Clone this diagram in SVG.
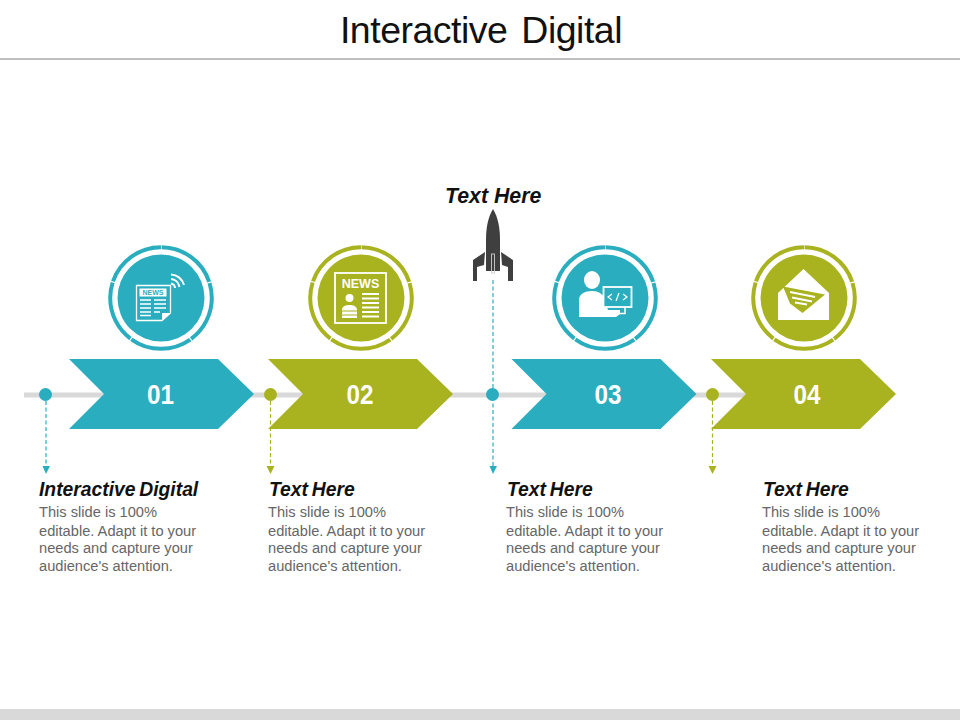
<svg xmlns="http://www.w3.org/2000/svg" width="960" height="720" viewBox="0 0 960 720">
<style>
text{font-family:"Liberation Sans",Arial,sans-serif}
.t{fill:#2aaebf}.o{fill:#a9b21f}.w{fill:#fff}
.num{font-size:28px;font-weight:700;fill:#fff;text-anchor:middle}
.h{font-size:19.3px;font-weight:700;font-style:italic;fill:#111;word-spacing:-1.5px}
.b{font-size:14.65px;fill:#666}
.ring{fill:none;stroke-width:4;stroke-dasharray:62.7 1.14;stroke-dashoffset:-.57}
.dash{stroke-width:1.2;stroke-dasharray:4 2.5;fill:none}
.ln{stroke:#fff;stroke-width:1.3;fill:none}
</style>
<defs>
<path id="arrow" d="M0 0H149L185 35 149 70H0L35 35Z"/>
</defs>
<rect width="960" height="720" fill="#fff"/>
<g id="header">
<text x="481" y="42.500" font-size="37.500" text-anchor="middle" fill="#111" word-spacing="4" letter-spacing="-.5">Interactive Digital</text>
<rect y="58" width="960" height="2" fill="#bfbfbf"/>
<rect y="709" width="960" height="11" fill="#d9d9d9"/>
</g>
<g id="connectors">
<rect x="24" y="392.500" width="725" height="5" fill="#d9d9d9"/>
<path class="dash" stroke="#2aaebf" d="M46 401V467"/>
<path class="t" d="M42.500 466H50L46 474Z"/>
<path class="dash" stroke="#a9b21f" d="M270.500 401V467"/>
<path class="o" d="M266.500 466H274.500L270.500 474Z"/>
<path class="dash" stroke="#2aaebf" d="M493 280V467"/>
<path class="t" d="M489.500 466H497L493 474Z"/>
<path class="dash" stroke="#a9b21f" d="M712.500 401V467"/>
<path class="o" d="M708.500 466H716.500L712.500 474Z"/>
</g>
<g id="step1">
<use href="#arrow" x="69" y="359" class="t"/>
<circle cx="45.500" cy="394.500" r="6.500" class="t"/>
<text x="160.500" y="404" class="num" textLength="27" lengthAdjust="spacingAndGlyphs">01</text>
<circle cx="161" cy="298" r="50.800" class="ring" stroke="#2aaebf" transform="rotate(-90 161 298)"/>
<circle cx="161" cy="298" r="43.500" class="t"/>
<g id="icon1">
<path class="ln" d="M136.500 285.500H170.500V313L162 320.500H136.500Z"/>
<path class="w" d="M162 320.500V313H170.500Z"/>
<rect x="139.500" y="288.500" width="27" height="8" fill="#fff"/>
<text x="153" y="295.300" font-size="7" font-weight="700" text-anchor="middle" fill="#2aaebf">NEWS</text>
<path class="ln" d="M140 300H151M154 300H166M140 304H151M154 304H166M140 308H151M154 308H166M140 312H151M154 312H160M140 315.500H151"/>
<path d="M171 274.500A14 14 0 0 1 184 285M171 279A9.500 9.500 0 0 1 179.500 287M171 283.500A5 5 0 0 1 175 288" stroke="#fff" stroke-width="2" fill="none"/>
</g>
</g>
<g id="step2">
<use href="#arrow" x="268" y="359" class="o"/>
<circle cx="270.500" cy="394.500" r="6.500" class="o"/>
<text x="360" y="404" class="num" textLength="27" lengthAdjust="spacingAndGlyphs">02</text>
<circle cx="361" cy="298" r="50.800" class="ring" stroke="#a9b21f" transform="rotate(-90 361 298)"/>
<circle cx="361" cy="298" r="43.500" class="o"/>
<g id="icon2">
<rect x="335" y="273" width="51" height="50" fill="none" stroke="#fff" stroke-width="1.800"/>
<text x="360.500" y="288" font-size="12.500" font-weight="700" text-anchor="middle" fill="#fff">NEWS</text>
<circle cx="349.500" cy="298" r="4" class="w"/>
<path class="w" d="M342 318V310C342 306 346 305 349.500 305S357 306 357 310V318Z"/>
<path d="M362 294H379M362 298.500H379M362 303H379M362 307.500H379M362 312H379M362 316.500H379" stroke="#fff" stroke-width="2.200" fill="none"/>
<path d="M342 311H357M342 315H357" stroke="#a9b21f" stroke-width="1" fill="none"/>
</g>
</g>
<g id="step3">
<use href="#arrow" x="511.500" y="359" class="t"/>
<circle cx="492.500" cy="394.500" r="6.500" class="t"/>
<text x="608" y="404" class="num" textLength="27" lengthAdjust="spacingAndGlyphs">03</text>
<circle cx="605" cy="298" r="50.800" class="ring" stroke="#2aaebf" transform="rotate(-90 605 298)"/>
<circle cx="605" cy="298" r="43.500" class="t"/>
<g id="icon3">
<ellipse cx="592" cy="280" rx="8" ry="9" class="w"/>
<path class="w" d="M579 317V300C579 294 585 291 592 291S603 294 605 300L608 310H620V314L616 317Z"/>
<rect x="603.500" y="287" width="28" height="20" fill="#2aaebf" stroke="#fff" stroke-width="1.800"/>
<path d="M625 307V313.500H618" stroke="#fff" stroke-width="1.500" fill="none"/>
<path d="M612 294L608 297L612 300M616 301L619 293M623 294L627 297L623 300" stroke="#fff" stroke-width="1.200" fill="none"/>
</g>
</g>
<g id="step4">
<use href="#arrow" x="711" y="359" class="o"/>
<circle cx="712.500" cy="394.500" r="6.500" class="o"/>
<text x="807" y="404" class="num" textLength="27" lengthAdjust="spacingAndGlyphs">04</text>
<circle cx="804" cy="298" r="50.800" class="ring" stroke="#a9b21f" transform="rotate(-90 804 298)"/>
<circle cx="804" cy="298" r="43.500" class="o"/>
<g id="icon4">
<path class="w" d="M803.500 269L829 293V320H778V293Z"/>
<path class="o" d="M783 286.500L825 294.500L802.500 313L790 303.500Z"/>
<path d="M790 292L815 297M792 297.500L812 301.500M795 302.500L807 304.500" stroke="#fff" stroke-width="2" fill="none"/>
</g>
</g>
<g id="rocket">
<path d="M493 209C488 217 486 228 486 240V271H500V240C500 228 498 217 493 209Z" fill="#3f3f3f"/>
<path d="M485 252L473 260V281H477V267L484 265ZM501 252L513 260V281H508V267L502 265Z" fill="#3f3f3f"/>
<rect x="491.500" y="254" width="3" height="19" fill="none" stroke="#ccc" stroke-width=".9"/>
</g>
<g id="labels">
<text x="445" y="203" font-size="21.300" font-weight="700" font-style="italic" fill="#111">Text Here</text>
<text x="39" y="496" class="h">Interactive Digital</text>
<text class="b"><tspan x="39" y="517">This slide is 100%</tspan><tspan x="39" y="536">editable. Adapt it to your</tspan><tspan x="39" y="553">needs and capture your</tspan><tspan x="39" y="571">audience's attention.</tspan></text>
<text x="269" y="496" class="h">Text Here</text>
<text class="b"><tspan x="268" y="517">This slide is 100%</tspan><tspan x="268" y="536">editable. Adapt it to your</tspan><tspan x="268" y="553">needs and capture your</tspan><tspan x="268" y="571">audience's attention.</tspan></text>
<text x="507" y="496" class="h">Text Here</text>
<text class="b"><tspan x="506" y="517">This slide is 100%</tspan><tspan x="506" y="536">editable. Adapt it to your</tspan><tspan x="506" y="553">needs and capture your</tspan><tspan x="506" y="571">audience's attention.</tspan></text>
<text x="763" y="496" class="h">Text Here</text>
<text class="b"><tspan x="762" y="517">This slide is 100%</tspan><tspan x="762" y="536">editable. Adapt it to your</tspan><tspan x="762" y="553">needs and capture your</tspan><tspan x="762" y="571">audience's attention.</tspan></text>
</g>
</svg>
